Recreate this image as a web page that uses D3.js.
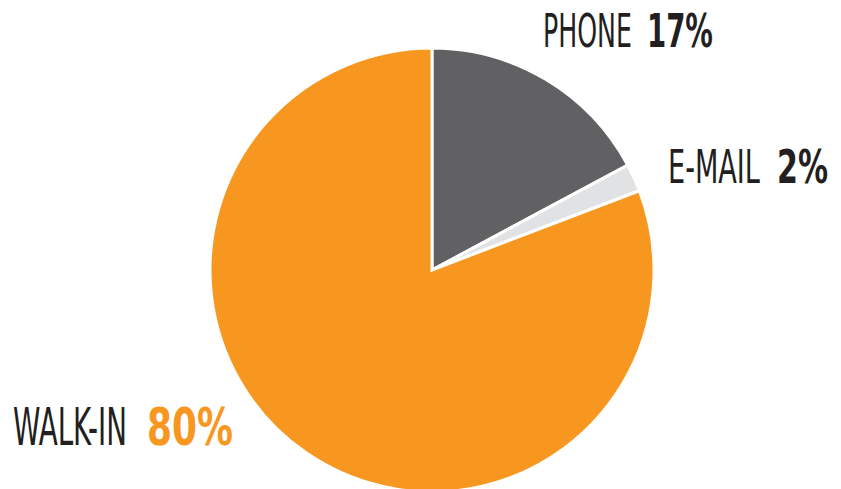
<!DOCTYPE html>
<html><head><meta charset="utf-8">
<script src="https://cdn.jsdelivr.net/npm/d3@7"></script>
<style>html,body{margin:0;padding:0;background:#fff;}svg{display:block;}</style>
</head><body>
<script>
const categories = ["PHONE", "E-MAIL", "WALK-IN"];
const values = [17, 2, 80];
const valueLabels = ["17%", "2%", "80%"];
const colors = ["#616163", "#e1e2e3", "#f7971f"];

const W = 841, H = 489;
const svg = d3.select("body").append("svg").attr("width", W).attr("height", H);
const cx = 432, cy = 270, R = 222;

const pie = d3.pie().sort(null).value(d => d)(values);
const arc = d3.arc().innerRadius(0).outerRadius(R);
const g = svg.append("g").attr("transform", `translate(${cx},${cy})`);
g.selectAll("path").data(pie).enter().append("path")
  .attr("d", arc)
  .attr("fill", (d, i) => colors[i])
  .attr("stroke", "#fff").attr("stroke-width", 3).attr("stroke-linejoin", "miter");

// label layout: name x/width, value x/width, baseline, font size, value colour
const labelPos = [
  {nx: 543, nw: 89, vx: 647, vw: 66, y: 47, fs: 47, vc: "#231f20"},
  {nx: 668, nw: 92, vx: 777, vw: 51, y: 183, fs: 47, vc: "#231f20"},
  {nx: 13, nw: 114, vx: 147, vw: 86, y: 445, fs: 51, vc: "#f7971f"}
];
const font = "'Liberation Sans Narrow','DejaVu Sans Condensed',sans-serif";

function squeezed(x, y, w, fs, weight, fill, str) {
  const gg = svg.append("g");
  const t = gg.append("text").attr("x", 0).attr("y", 0)
    .attr("font-family", font).attr("font-size", fs)
    .attr("font-weight", weight).attr("fill", fill).text(str);
  const natural = t.node().getComputedTextLength();
  gg.attr("transform", `translate(${x},${y}) scale(${w / natural},1)`);
}
categories.forEach((c, i) => {
  const p = labelPos[i];
  squeezed(p.nx, p.y, p.nw, p.fs, "normal", "#231f20", c);
  squeezed(p.vx, p.y, p.vw, p.fs, "bold", p.vc, valueLabels[i]);
});
</script>
</body></html>
